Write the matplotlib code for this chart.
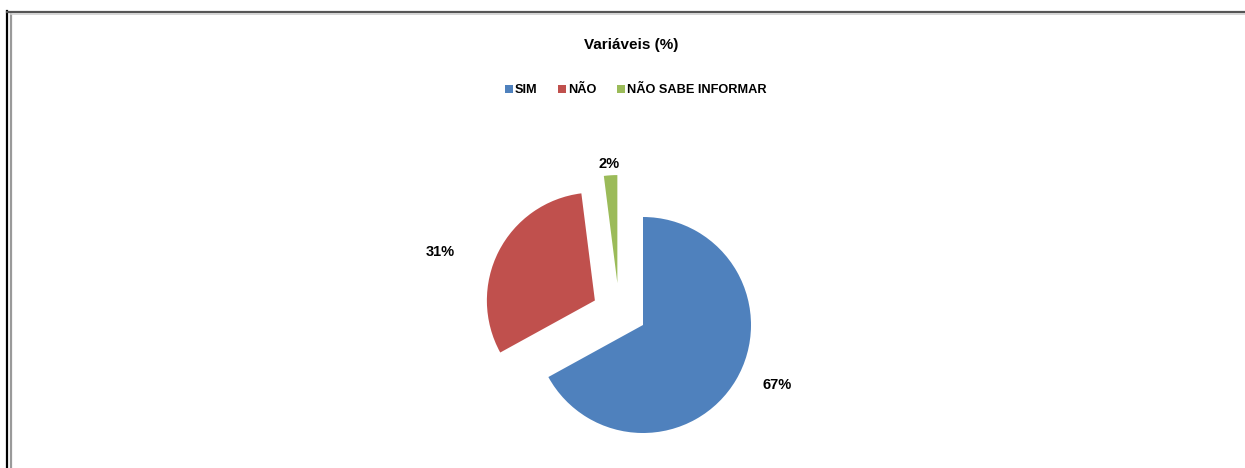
import matplotlib
matplotlib.use("Agg")
from matplotlib import pyplot as plt
from matplotlib.lines import Line2D
import math

# dados do gráfico
categorias = ["SIM", "NÃO", "NÃO SABE INFORMAR"]
valores = [67, 31, 2]
cores = ["#4F81BD", "#C0504D", "#9BBB59"]
titulo = "Variáveis (%)"

plt.rcParams['font.family'] = ['Liberation Sans', 'DejaVu Sans']

W, H = 1245, 468
fig = plt.figure(figsize=(W / 100, H / 100), dpi=100)
ax = fig.add_axes([0, 0, 1, 1])

# geometria da pizza (em pixels)
centro = (643, H - 325)
raio = 108
explode = [0, 54, 42]
dist_rotulo = [1.36, 1.5, 1.14]

wedges, textos, pcts = ax.pie(
    valores,
    colors=cores,
    startangle=90,
    counterclock=False,
    center=centro,
    radius=raio,
    explode=explode,
    autopct='%1.0f%%',
    pctdistance=1.3,
    wedgeprops={'linewidth': 0},
    textprops={'fontsize': 10.5, 'fontweight': 'bold', 'color': 'black'},
)
ax.set_xlim(0, W)
ax.set_ylim(0, H)
ax.set_aspect('equal')
ax.axis('off')

# pequeno deslocamento lateral da fatia verde (como no Excel)
gx, gy = wedges[2].center
wedges[2].set_center((gx - 23, gy))

for w, t, d in zip(wedges, pcts, dist_rotulo):
    cx, cy = w.center
    tm = math.radians((w.theta1 + w.theta2) / 2)
    t.set_position((cx + d * raio * math.cos(tm), cy + d * raio * math.sin(tm)))
# ajuste fino dos rótulos
x, y = pcts[0].get_position()
pcts[0].set_position((x + 8, y + 15))
x, y = pcts[1].get_position()
pcts[1].set_position((x - 10, y - 25))
x, y = pcts[2].get_position()
pcts[2].set_position((x - 1, y - 4))

fig.text(631 / W, 1 - 45 / H, titulo, ha='center', va='center',
         fontsize=11, fontweight='bold')

handles = [Line2D([], [], marker='s', linestyle='none', markersize=5.5,
                  markerfacecolor=c, markeredgewidth=0) for c in cores]
fig.legend(handles, categorias, loc='center', bbox_to_anchor=(636 / W, 1 - 90 / H),
           ncol=3, frameon=False, handlelength=0.6, handletextpad=0.2,
           columnspacing=1.6, prop={'size': 9.2, 'weight': 'bold'})

# moldura
def linha(xs, ys, cor, lw):
    fig.add_artist(Line2D([x / W for x in xs], [1 - y / H for y in ys],
                          color=cor, linewidth=lw, transform=fig.transFigure))

linha([7, 7], [11, H], 'black', 1.6)
linha([11, 11], [13, H], '#9a9a9a', 1.6)
linha([7, W], [11.5, 11.5], '#555555', 1.6)
linha([11, W], [13.8, 13.8], '#d0d0d0', 1.2)

fig.savefig('out.png', dpi=100)
